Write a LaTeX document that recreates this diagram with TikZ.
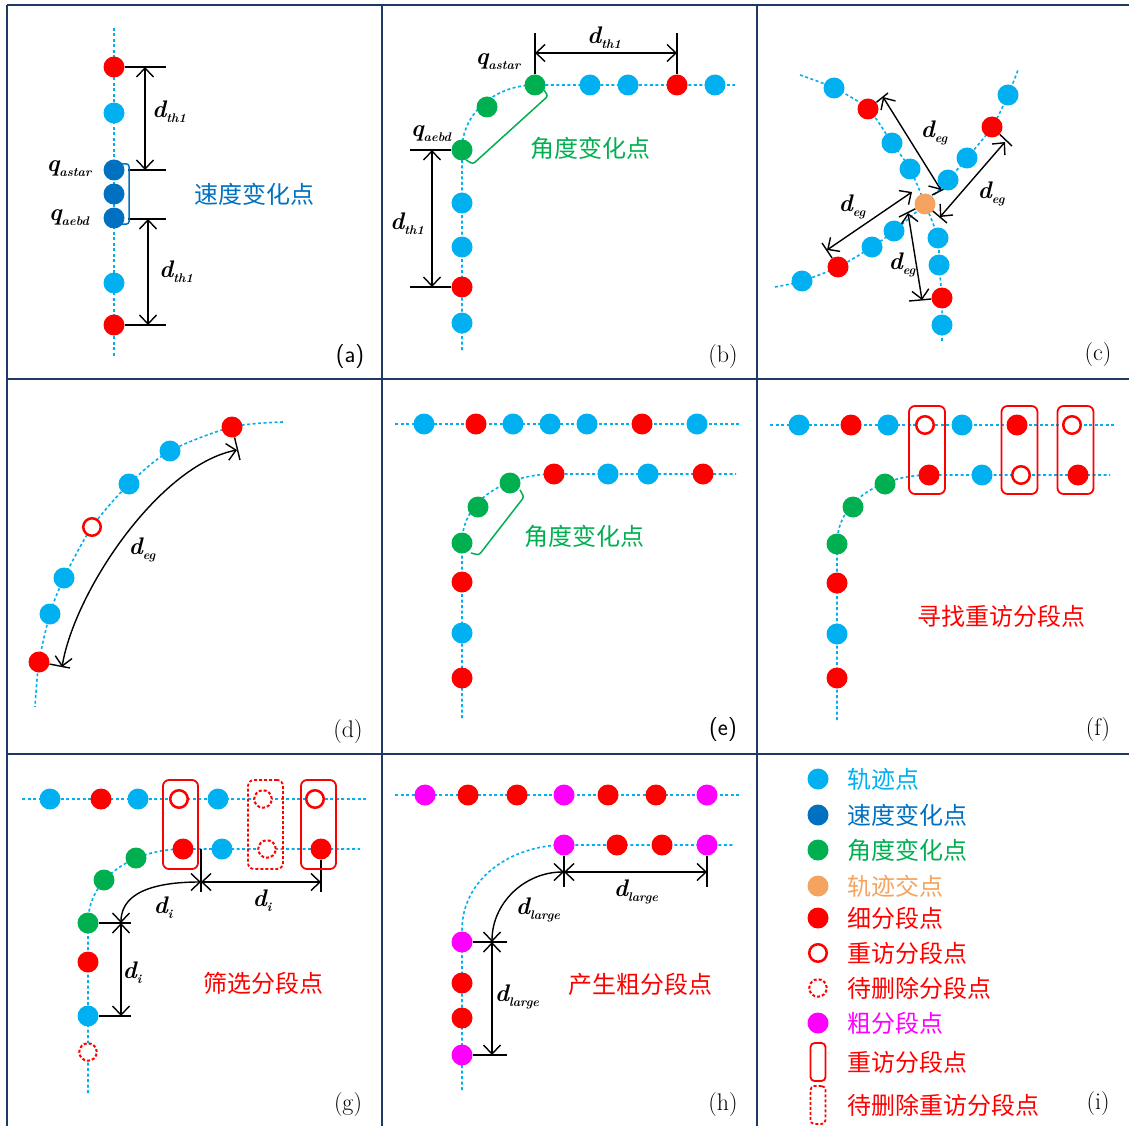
\documentclass[tikz,border=0pt]{standalone}
\usepackage{fontspec}
\newfontfamily\cjk{Noto Sans CJK SC}
\usetikzlibrary{arrows.meta,calc,backgrounds}
\definecolor{trjblue}{HTML}{00B0F0}
\definecolor{spdblue}{HTML}{0070C0}
\definecolor{anggreen}{HTML}{00B050}
\definecolor{crossorange}{HTML}{F4A460}
\definecolor{segred}{HTML}{FF0000}
\definecolor{coarsemag}{HTML}{FF00FF}
\definecolor{framenavy}{HTML}{1F3864}
\newcommand\cjkfont{\cjk\fontsize{24}{28}\selectfont}
\newcommand\dsub[1]{{\fontsize{24}{26}\selectfont\bfseries\itshape d}\raisebox{-5pt}{\fontsize{12.5}{14}\selectfont\bfseries\itshape #1}}
\newcommand\qsub[1]{{\fontsize{24}{26}\selectfont\bfseries\itshape q}\raisebox{-5pt}{\fontsize{12.5}{14}\selectfont\bfseries\itshape #1}}
\tikzset{
 trj/.style={draw=trjblue, line width=1.6pt, dash pattern=on 3pt off 2.5pt},
 dotbase/.style={circle, inner sep=0pt, minimum size=21pt},
 ptb/.style={dotbase, fill=trjblue},
 pts/.style={dotbase, fill=spdblue},
 ptg/.style={dotbase, fill=anggreen},
 pto/.style={dotbase, fill=crossorange},
 ptr/.style={dotbase, fill=segred},
 ptm/.style={dotbase, fill=coarsemag},
 pro/.style={circle, inner sep=0pt, minimum size=17.5pt, draw=segred, line width=2.5pt, fill=white},
 prd/.style={pro, line width=2pt, dash pattern=on 3pt off 2pt},
 rbox/.style={draw=segred, line width=1.8pt, rounded corners=6pt, minimum width=36pt, minimum height=88pt, inner sep=0pt},
 rboxd/.style={rbox, dash pattern=on 3pt off 2pt},
 ext/.style={black, line width=1.4pt},
 dimarr/.style={black, line width=1.4pt, >={Straight Barb[length=9pt,width=17pt]}, <->},
 cjklab/.style={font=\cjkfont, inner sep=0pt},
 mlab/.style={inner sep=0pt},
 plab/.style={font=\fontsize{24}{28}\selectfont, inner sep=0pt},
 gridline/.style={draw=framenavy, line width=2.5pt},
 brk/.style={line width=1.5pt, rounded corners=2.5pt},
}
\begin{document}
\begin{tikzpicture}[x=1pt,y=-1pt]
\useasboundingbox (0,0) rectangle (1129,1126);

% ---------------- panel (a)
\node[ptr] (a1) at (114,67) {};
\node[ptb] (a2) at (114,113) {};
\node[pts] (a3) at (114,170) {};
\node[pts] (a4) at (114,194) {};
\node[pts] (a5) at (114,218) {};
\node[ptb] (a6) at (114,283) {};
\node[ptr] (a7) at (114,325) {};
\node[mlab] (aq1) at (69,169) {\qsub{astar}};
\node[mlab] (aq2) at (69,218) {\qsub{aebd}};
\node[mlab] (ad1) at (169,112) {\dsub{th1}};
\node[mlab] (ad2) at (176,272) {\dsub{th1}};
\node[cjklab, text=spdblue] (atx) at (254,194) {速度变化点};
\node[plab] (alab) at (350,357) {\sffamily (a)};

% ---------------- panel (b)
\node[ptg] (b1) at (535,85) {};
\node[ptb] (b2) at (590,85) {};
\node[ptb] (b3) at (628,85) {};
\node[ptr] (b4) at (677,85) {};
\node[ptb] (b5) at (715,85) {};
\node[ptg] (bm) at (487,107) {};
\node[ptg] (b6) at (462,150) {};
\node[ptb] (b7) at (462,203) {};
\node[ptb] (b8) at (462,247) {};
\node[ptr] (b9) at (462,287) {};
\node[ptb] (b10) at (462,323) {};
\node[mlab] (bq1) at (498,62) {\qsub{astar}};
\node[mlab] (bq2) at (431,134) {\qsub{aebd}};
\node[mlab] (bd1) at (604,38) {\dsub{th1}};
\node[mlab] (bd2) at (407,224) {\dsub{th1}};
\node[cjklab, text=anggreen] (btx) at (590,148) {角度变化点};
\node[plab] (blab) at (723,357) {(b)};

% ---------------- panel (c)
\node[ptb] (ca1) at (834,88) {};
\node[ptr] (ca2) at (868,109) {};
\node[ptb] (ca3) at (892,143) {};
\node[ptb] (ca4) at (910,169) {};
\node[ptb] (ca5) at (938,238) {};
\node[ptb] (ca6) at (939,265) {};
\node[ptr] (ca7) at (942,298) {};
\node[ptb] (ca8) at (942,325) {};
\node[ptb] (cb1) at (802,281) {};
\node[ptr] (cb2) at (838,267) {};
\node[ptb] (cb3) at (872,247) {};
\node[ptb] (cb4) at (894,231) {};
\node[ptb] (cb5) at (948,180) {};
\node[ptb] (cb6) at (967,158) {};
\node[ptr] (cb7) at (992,127) {};
\node[ptb] (cb8) at (1008,95) {};
\node[pto] (co) at (925,204) {};
\node[mlab] (cl1) at (934,133) {\dsub{eg}};
\node[mlab] (cl2) at (991,194) {\dsub{eg}};
\node[mlab] (cl3) at (852,207) {\dsub{eg}};
\node[mlab] (cl4) at (902,265) {\dsub{eg}};
\node[plab] (clab) at (1098,355) {(c)};

% ---------------- panel (d)
\node[ptr] (d1) at (232,427) {};
\node[ptb] (d2) at (170,451) {};
\node[ptb] (d3) at (129,484) {};
\node[pro] (d4) at (92,527) {};
\node[ptb] (d5) at (64,578) {};
\node[ptb] (d6) at (50,614) {};
\node[ptr] (d7) at (39,662) {};
\node[mlab] (dl1) at (142,550) {\dsub{eg}};
\node[plab] (dlab) at (348,732) {(d)};

% ---------------- panel (e)
\node[ptb] (e1) at (424,424) {};
\node[ptr] (e2) at (476,424) {};
\node[ptb] (e3) at (513,424) {};
\node[ptb] (e4) at (550,424) {};
\node[ptb] (e5) at (587,424) {};
\node[ptr] (e6) at (642,424) {};
\node[ptb] (e7) at (697,424) {};
\node[ptr] (e8) at (554,474) {};
\node[ptb] (e9) at (608,474) {};
\node[ptb] (e10) at (648,474) {};
\node[ptr] (e11) at (703,474) {};
\node[ptg] (e12) at (510,483) {};
\node[ptg] (e13) at (478,507) {};
\node[ptg] (e14) at (462,543) {};
\node[ptr] (e15) at (462,582) {};
\node[ptb] (e16) at (462,633) {};
\node[ptr] (e17) at (462,678) {};
\node[cjklab, text=anggreen] (etx) at (584,536) {角度变化点};
\node[plab] (elab) at (723,730) {\sffamily (e)};

% ---------------- panel (f)
\node[rbox] (fb1) at (927,450) {};
\node[rbox] (fb2) at (1019.5,450) {};
\node[rbox] (fb3) at (1075.5,450) {};
\node[ptb] (f1) at (799,425) {};
\node[ptr] (f2) at (851,425) {};
\node[ptb] (f3) at (888,425) {};
\node[pro] (f4) at (925,425) {};
\node[ptb] (f5) at (962,425) {};
\node[ptr] (f6) at (1017,425) {};
\node[pro] (f7) at (1072,425) {};
\node[ptr] (f8) at (929,475) {};
\node[ptb] (f9) at (982,475) {};
\node[pro] (f10) at (1021,475) {};
\node[ptr] (f11) at (1078,475) {};
\node[ptg] (f12) at (885,484) {};
\node[ptg] (f13) at (853,507) {};
\node[ptg] (f14) at (837,544) {};
\node[ptr] (f15) at (837,583) {};
\node[ptb] (f16) at (837,634) {};
\node[ptr] (f17) at (837,678) {};
\node[cjklab, text=segred] (ftx) at (1001,616) {寻找重访分段点};
\node[plab] (flab) at (1098,730) {(f)};

% ---------------- panel (g)
\node[rbox, minimum width=35pt, minimum height=89pt] (gb1) at (180.5,824.5) {};
\node[rboxd, minimum width=35pt, minimum height=89pt] (gb2) at (265.5,824.5) {};
\node[rbox, minimum width=35pt, minimum height=89pt] (gb3) at (318.5,824.5) {};
\node[ptb] (g1) at (50,799) {};
\node[ptr] (g2) at (101,799) {};
\node[ptb] (g3) at (138,799) {};
\node[pro] (g4) at (179,799) {};
\node[ptb] (g5) at (218,799) {};
\node[prd] (g6) at (263,799) {};
\node[pro] (g7) at (315,799) {};
\node[ptr] (g8) at (183,849) {};
\node[ptb] (g9) at (222,849) {};
\node[prd] (g10) at (267,849) {};
\node[ptr] (g11) at (321,849) {};
\node[ptg] (g12) at (136,858) {};
\node[ptg] (g13) at (104,880) {};
\node[ptg] (g14) at (88,923) {};
\node[ptr] (g15) at (88,962) {};
\node[ptb] (g16) at (88,1016) {};
\node[prd] (g17) at (88,1052) {};
\coordinate (gj1) at (201,882);
\coordinate (gj2) at (121,923);
\node[mlab] (gl1) at (163,908) {\dsub{i}};
\node[mlab] (gl2) at (262,901) {\dsub{i}};
\node[mlab] (gl3) at (132,973) {\dsub{i}};
\node[cjklab, text=segred] (gtx) at (263,983) {筛选分段点};
\node[plab] (glab) at (348,1104) {(g)};

% ---------------- panel (h)
\node[ptm] (h1) at (425,795) {};
\node[ptr] (h2) at (468,795) {};
\node[ptr] (h3) at (517,795) {};
\node[ptm] (h4) at (564,795) {};
\node[ptr] (h5) at (608,795) {};
\node[ptr] (h6) at (656,795) {};
\node[ptm] (h7) at (707,795) {};
\node[ptm] (h8) at (564,845) {};
\node[ptr] (h9) at (617,845) {};
\node[ptr] (h10) at (662,845) {};
\node[ptm] (h11) at (707,845) {};
\node[ptm] (h12) at (462,942) {};
\node[ptr] (h13) at (462,983) {};
\node[ptr] (h14) at (462,1018) {};
\node[ptm] (h15) at (462,1055) {};
\coordinate (hj1) at (564,872);
\coordinate (hj2) at (492,942);
\node[mlab] (hl1) at (636,892) {\dsub{large}};
\node[mlab] (hl2) at (538,910) {\dsub{large}};
\node[mlab] (hl3) at (517,997) {\dsub{large}};
\node[cjklab, text=segred] (htx) at (640,984) {产生粗分段点};
\node[plab] (hlab) at (723,1104) {(h)};

% ---------------- panel (i) legend
\node[ptb] (li1) at (818,779) {};
\node[pts] (li2) at (818,815) {};
\node[ptg] (li3) at (818,850) {};
\node[pto] (li4) at (818,886) {};
\node[ptr] (li5) at (818,918) {};
\node[pro] (li6) at (818,953) {};
\node[prd] (li7) at (818,988) {};
\node[ptm] (li8) at (818,1023) {};
\node[rbox, minimum width=15pt, minimum height=38pt, rounded corners=4pt] (li9) at (818,1062) {};
\node[rboxd, minimum width=15pt, minimum height=38pt, rounded corners=4pt] (li10) at (818,1105) {};
\node[cjklab, anchor=west, text=trjblue] (lt1) at (847,779) {轨迹点};
\node[cjklab, anchor=west, text=spdblue] (lt2) at (847,815) {速度变化点};
\node[cjklab, anchor=west, text=anggreen] (lt3) at (847,850) {角度变化点};
\node[cjklab, anchor=west, text=crossorange] (lt4) at (847,886) {轨迹交点};
\node[cjklab, anchor=west, text=segred] (lt5) at (847,918) {细分段点};
\node[cjklab, anchor=west, text=segred] (lt6) at (847,953) {重访分段点};
\node[cjklab, anchor=west, text=segred] (lt7) at (847,988) {待删除分段点};
\node[cjklab, anchor=west, text=coarsemag] (lt8) at (847,1023) {粗分段点};
\node[cjklab, anchor=west, text=segred] (lt9) at (847,1062) {重访分段点};
\node[cjklab, anchor=west, text=segred] (lt10) at (847,1105) {待删除重访分段点};
\node[plab] (ilab) at (1098,1103) {(i)};

\begin{scope}[on background layer]
% grid frame
\draw[gridline] (7,5) -- (1129,5);
\draw[gridline] (7,379) -- (1129,379);
\draw[gridline] (7,754) -- (1129,754);
\draw[gridline] (7,5) -- (7,1126);
\draw[gridline] (382,5) -- (382,1126);
\draw[gridline] (757,5) -- (757,1126);

% (a)
\draw[trj] (114,28) -- (114,357);
\draw[ext] (a1) -- ($(a1)+(52,0)$);
\draw[ext] ($(a3)+(14,0)$) -- ($(a3)+(52,0)$);
\draw[ext] ($(a5)+(14,1)$) -- ($(a5)+(52,1)$);
\draw[ext] (a7) -- ($(a7)+(52,0)$);
\draw[dimarr] ($(a1)+(31,0)$) -- ($(a3)+(31,0)$);
\draw[dimarr] ($(a5)+(34,1)$) -- ($(a7)+(34,0)$);
\draw[brk, draw=spdblue] ($(a3)+(8,-6)$) -- ($(a3)+(15,-6)$) -- ($(a5)+(15,6)$) -- ($(a5)+(8,6)$);

% (b)
\draw[trj] (462,350) -- (b6.center) to[out=90,in=180] (b1.center) -- (735,85);
\draw[ext] (b1) -- ($(b1)+(0,-52)$);
\draw[ext] (b4) -- ($(b4)+(0,-52)$);
\draw[dimarr] ($(b1)+(0,-32)$) -- ($(b4)+(0,-32)$);
\draw[ext] (b6) -- ($(b6)+(-52,0)$);
\draw[ext] (b9) -- ($(b9)+(-52,0)$);
\draw[dimarr] ($(b6)+(-30,0)$) -- ($(b9)+(-30,0)$);
\draw[brk, draw=anggreen] ($(b1)+(9,5)$) -- ($(b1)+(13,11)$) -- ($(b6)+(11,14)$) -- ($(b6)+(4,10)$);

% (c)
\draw[trj] plot[smooth] coordinates {(800,75) (ca1) (ca2) (ca3) (ca4) (co) (ca5) (ca6) (ca7) (ca8) (942,342)};
\draw[trj] plot[smooth] coordinates {(775,287) (cb1) (cb2) (cb3) (cb4) (co) (cb5) (cb6) (cb7) (cb8) (1018,70)};
\draw[dimarr] ($(ca2)+(15,-12)$) -- ($(co)+(16,-14)$);
\draw[ext] (ca2) -- ($(ca2)+(20,-16)$);
\draw[ext] ($(co)+(7,-9)$) -- ($(co)+(27,-19)$);
\draw[dimarr] ($(cb7)+(13,15)$) -- ($(co)+(15,13)$);
\draw[ext] (cb7) -- ($(cb7)+(20,19)$);
\draw[ext] ($(co)+(3,3)$) -- ($(co)+(22,19)$);
\draw[dimarr] ($(co)+(-13,-12)$) -- ($(cb2)+(-11,-17)$);
\draw[ext] (cb2) -- ($(cb2)+(-16,-24)$);
\draw[dimarr] ($(co)+(-17,9)$) -- ($(ca7)+(-20,2)$);
\draw[ext] (ca7) -- ($(ca7)+(-33,3)$);
\draw[ext] ($(co)+(-26,13)$) -- (co);

% (d)
\draw[trj] plot[smooth] coordinates {(283,422) (d1) (d2) (d3) (d4) (d5) (d6) (d7) (35,707)};
\draw[dimarr] ($(d7)+(23,5)$) .. controls (75,590) and (160,465) .. ($(d1)+(5,23)$);
\draw[ext] (d1) -- ($(d1)+(8,33)$);
\draw[ext] (d7) -- ($(d7)+(31,6)$);

% (e)
\draw[trj] (395,424) -- (740,424);
\draw[trj] (462,718) -- (e14.center) to[out=90,in=180] (e8.center) -- (736,474);
\draw[brk, draw=anggreen] ($(e12)+(10,7)$) -- ($(e12)+(14,14)$) -- ($(e14)+(17,12)$) -- ($(e14)+(9,10)$);

% (f)
\draw[trj] (770,425) -- (1115,425);
\draw[trj] (837,720) -- (f14.center) to[out=90,in=180] (f8.center) -- (1110,475);

% (g)
\draw[trj] (22,799) -- (367,799);
\draw[trj] (88,1093) -- (g14.center) to[out=90,in=180] (g8.center) -- (360,849);
\draw[ext] ($(g8)+(18,0)$) -- ($(gj1)+(0,10)$);
\draw[ext] (g11) -- ($(g11)+(0,43)$);
\draw[ext] (g14) -- ($(g14)+(43,0)$);
\draw[ext] (g16) -- ($(g16)+(43,0)$);
\draw[dimarr] (gj1) -- (gj1 -| g11);
\draw[dimarr] (gj1) to[out=180,in=90] (gj2);
\draw[dimarr] (gj2) -- (gj2 |- g16);

% (h)
\draw[trj] (395,795) -- (740,795);
\draw[trj] (462,1090) -- (462,930) to[out=90,in=180] (h8.center) -- (733,845);
\draw[ext] (h8) -- ($(h8)+(0,42)$);
\draw[ext] (h11) -- ($(h11)+(0,42)$);
\draw[ext] (h12) -- ($(h12)+(45,0)$);
\draw[ext] (h15) -- ($(h15)+(45,0)$);
\draw[dimarr] (hj1) -- (hj1 -| h11);
\draw[dimarr] (hj1) to[out=180,in=90] (hj2);
\draw[dimarr] (hj2) -- (hj2 |- h15);
\end{scope}
\end{tikzpicture}
\end{document}
